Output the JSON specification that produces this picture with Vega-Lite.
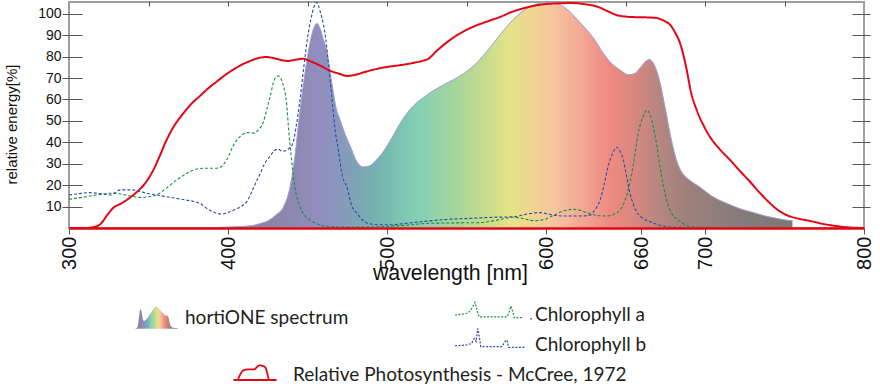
{
  "$schema": "https://vega.github.io/schema/vega-lite/v6.json",
  "width": 795,
  "height": 226,
  "autosize": {"type": "none"},
  "padding": {"left": 69, "top": 2, "right": 16, "bottom": 161},
  "background": "white",
  "config": {
    "view": {"stroke": "#9e9e9e", "strokeWidth": 2},
    "axis": {"grid": false},
    "legend": {"labelLimit": 0}
  },
  "datasets": {
    "spectrum": [
      {"wl":385,"rel":0,"source":"hortiONE spectrum"},{"wl":395,"rel":0.3,"source":"hortiONE spectrum"},{"wl":405,"rel":0.6,"source":"hortiONE spectrum"},{"wl":414,"rel":1,"source":"hortiONE spectrum"},{"wl":420,"rel":2,"source":"hortiONE spectrum"},{"wl":426,"rel":3.7,"source":"hortiONE spectrum"},{"wl":430,"rel":6,"source":"hortiONE spectrum"},{"wl":435,"rel":10,"source":"hortiONE spectrum"},{"wl":439,"rel":19,"source":"hortiONE spectrum"},{"wl":442,"rel":33,"source":"hortiONE spectrum"},{"wl":445,"rel":53,"source":"hortiONE spectrum"},{"wl":448,"rel":70,"source":"hortiONE spectrum"},{"wl":450,"rel":80,"source":"hortiONE spectrum"},{"wl":452,"rel":88,"source":"hortiONE spectrum"},{"wl":454,"rel":93.5,"source":"hortiONE spectrum"},{"wl":456,"rel":95.5,"source":"hortiONE spectrum"},{"wl":458,"rel":93,"source":"hortiONE spectrum"},{"wl":460,"rel":88,"source":"hortiONE spectrum"},{"wl":462,"rel":83,"source":"hortiONE spectrum"},{"wl":464,"rel":74,"source":"hortiONE spectrum"},{"wl":466,"rel":64.5,"source":"hortiONE spectrum"},{"wl":468,"rel":56,"source":"hortiONE spectrum"},{"wl":470.5,"rel":50.5,"source":"hortiONE spectrum"},{"wl":473,"rel":45,"source":"hortiONE spectrum"},{"wl":477,"rel":38,"source":"hortiONE spectrum"},{"wl":481,"rel":31,"source":"hortiONE spectrum"},{"wl":485,"rel":28.5,"source":"hortiONE spectrum"},{"wl":489,"rel":29,"source":"hortiONE spectrum"},{"wl":493,"rel":31.5,"source":"hortiONE spectrum"},{"wl":498,"rel":36,"source":"hortiONE spectrum"},{"wl":503,"rel":42,"source":"hortiONE spectrum"},{"wl":508,"rel":48.5,"source":"hortiONE spectrum"},{"wl":513,"rel":54,"source":"hortiONE spectrum"},{"wl":518,"rel":58,"source":"hortiONE spectrum"},{"wl":524,"rel":61.5,"source":"hortiONE spectrum"},{"wl":530,"rel":64.5,"source":"hortiONE spectrum"},{"wl":536,"rel":67,"source":"hortiONE spectrum"},{"wl":542,"rel":69.3,"source":"hortiONE spectrum"},{"wl":548,"rel":72,"source":"hortiONE spectrum"},{"wl":554,"rel":75.4,"source":"hortiONE spectrum"},{"wl":560,"rel":80,"source":"hortiONE spectrum"},{"wl":567,"rel":86.3,"source":"hortiONE spectrum"},{"wl":573,"rel":92,"source":"hortiONE spectrum"},{"wl":579,"rel":97,"source":"hortiONE spectrum"},{"wl":585,"rel":101,"source":"hortiONE spectrum"},{"wl":592,"rel":104,"source":"hortiONE spectrum"},{"wl":598,"rel":105.2,"source":"hortiONE spectrum"},{"wl":603,"rel":105.3,"source":"hortiONE spectrum"},{"wl":608,"rel":104.5,"source":"hortiONE spectrum"},{"wl":615,"rel":101,"source":"hortiONE spectrum"},{"wl":620,"rel":97,"source":"hortiONE spectrum"},{"wl":625.6,"rel":92.5,"source":"hortiONE spectrum"},{"wl":630,"rel":88.5,"source":"hortiONE spectrum"},{"wl":636,"rel":81.6,"source":"hortiONE spectrum"},{"wl":641,"rel":77,"source":"hortiONE spectrum"},{"wl":646.5,"rel":73.8,"source":"hortiONE spectrum"},{"wl":652,"rel":71.5,"source":"hortiONE spectrum"},{"wl":656,"rel":72.2,"source":"hortiONE spectrum"},{"wl":659.5,"rel":75,"source":"hortiONE spectrum"},{"wl":663,"rel":78,"source":"hortiONE spectrum"},{"wl":665,"rel":78.7,"source":"hortiONE spectrum"},{"wl":667,"rel":77.5,"source":"hortiONE spectrum"},{"wl":669,"rel":74.5,"source":"hortiONE spectrum"},{"wl":671.7,"rel":68,"source":"hortiONE spectrum"},{"wl":674.8,"rel":56.7,"source":"hortiONE spectrum"},{"wl":678,"rel":44.2,"source":"hortiONE spectrum"},{"wl":682,"rel":31.8,"source":"hortiONE spectrum"},{"wl":686.4,"rel":25,"source":"hortiONE spectrum"},{"wl":690,"rel":22.5,"source":"hortiONE spectrum"},{"wl":697,"rel":19,"source":"hortiONE spectrum"},{"wl":704,"rel":15,"source":"hortiONE spectrum"},{"wl":713.6,"rel":11.5,"source":"hortiONE spectrum"},{"wl":722,"rel":9,"source":"hortiONE spectrum"},{"wl":730.4,"rel":7.2,"source":"hortiONE spectrum"},{"wl":738,"rel":5.6,"source":"hortiONE spectrum"},{"wl":745,"rel":4.5,"source":"hortiONE spectrum"},{"wl":750,"rel":3.8,"source":"hortiONE spectrum"},{"wl":755,"rel":3.4,"source":"hortiONE spectrum"}
    ],
    "mccree": [
      {"wl":300,"rel":0,"curve":"Relative Photosynthesis - McCree, 1972"},{"wl":310,"rel":0,"curve":"Relative Photosynthesis - McCree, 1972"},{"wl":316,"rel":0.5,"curve":"Relative Photosynthesis - McCree, 1972"},{"wl":320,"rel":2,"curve":"Relative Photosynthesis - McCree, 1972"},{"wl":324,"rel":6,"curve":"Relative Photosynthesis - McCree, 1972"},{"wl":328,"rel":9.5,"curve":"Relative Photosynthesis - McCree, 1972"},{"wl":333,"rel":11.5,"curve":"Relative Photosynthesis - McCree, 1972"},{"wl":338,"rel":14,"curve":"Relative Photosynthesis - McCree, 1972"},{"wl":343,"rel":17,"curve":"Relative Photosynthesis - McCree, 1972"},{"wl":348,"rel":21,"curve":"Relative Photosynthesis - McCree, 1972"},{"wl":353,"rel":27,"curve":"Relative Photosynthesis - McCree, 1972"},{"wl":357,"rel":33.5,"curve":"Relative Photosynthesis - McCree, 1972"},{"wl":361,"rel":40.5,"curve":"Relative Photosynthesis - McCree, 1972"},{"wl":366,"rel":47.5,"curve":"Relative Photosynthesis - McCree, 1972"},{"wl":372,"rel":53.6,"curve":"Relative Photosynthesis - McCree, 1972"},{"wl":377,"rel":58,"curve":"Relative Photosynthesis - McCree, 1972"},{"wl":382,"rel":61.4,"curve":"Relative Photosynthesis - McCree, 1972"},{"wl":388,"rel":65.5,"curve":"Relative Photosynthesis - McCree, 1972"},{"wl":393,"rel":68.4,"curve":"Relative Photosynthesis - McCree, 1972"},{"wl":398,"rel":71.3,"curve":"Relative Photosynthesis - McCree, 1972"},{"wl":403,"rel":73.8,"curve":"Relative Photosynthesis - McCree, 1972"},{"wl":408,"rel":76,"curve":"Relative Photosynthesis - McCree, 1972"},{"wl":414,"rel":78,"curve":"Relative Photosynthesis - McCree, 1972"},{"wl":419,"rel":79.3,"curve":"Relative Photosynthesis - McCree, 1972"},{"wl":424,"rel":79.8,"curve":"Relative Photosynthesis - McCree, 1972"},{"wl":429,"rel":79.3,"curve":"Relative Photosynthesis - McCree, 1972"},{"wl":434,"rel":78.3,"curve":"Relative Photosynthesis - McCree, 1972"},{"wl":438,"rel":78,"curve":"Relative Photosynthesis - McCree, 1972"},{"wl":442,"rel":78.5,"curve":"Relative Photosynthesis - McCree, 1972"},{"wl":447,"rel":79,"curve":"Relative Photosynthesis - McCree, 1972"},{"wl":452,"rel":77.8,"curve":"Relative Photosynthesis - McCree, 1972"},{"wl":458,"rel":75.8,"curve":"Relative Photosynthesis - McCree, 1972"},{"wl":464,"rel":73.5,"curve":"Relative Photosynthesis - McCree, 1972"},{"wl":470,"rel":72,"curve":"Relative Photosynthesis - McCree, 1972"},{"wl":475,"rel":71,"curve":"Relative Photosynthesis - McCree, 1972"},{"wl":480,"rel":71.5,"curve":"Relative Photosynthesis - McCree, 1972"},{"wl":486,"rel":72.8,"curve":"Relative Photosynthesis - McCree, 1972"},{"wl":492,"rel":74,"curve":"Relative Photosynthesis - McCree, 1972"},{"wl":500,"rel":75.2,"curve":"Relative Photosynthesis - McCree, 1972"},{"wl":508,"rel":76,"curve":"Relative Photosynthesis - McCree, 1972"},{"wl":516,"rel":77,"curve":"Relative Photosynthesis - McCree, 1972"},{"wl":522,"rel":78,"curve":"Relative Photosynthesis - McCree, 1972"},{"wl":526,"rel":79,"curve":"Relative Photosynthesis - McCree, 1972"},{"wl":531,"rel":82.5,"curve":"Relative Photosynthesis - McCree, 1972"},{"wl":537,"rel":86.3,"curve":"Relative Photosynthesis - McCree, 1972"},{"wl":543,"rel":89.5,"curve":"Relative Photosynthesis - McCree, 1972"},{"wl":550,"rel":92.5,"curve":"Relative Photosynthesis - McCree, 1972"},{"wl":556,"rel":94.5,"curve":"Relative Photosynthesis - McCree, 1972"},{"wl":563,"rel":96.4,"curve":"Relative Photosynthesis - McCree, 1972"},{"wl":571,"rel":98.5,"curve":"Relative Photosynthesis - McCree, 1972"},{"wl":579,"rel":101,"curve":"Relative Photosynthesis - McCree, 1972"},{"wl":587,"rel":102.8,"curve":"Relative Photosynthesis - McCree, 1972"},{"wl":596,"rel":104.2,"curve":"Relative Photosynthesis - McCree, 1972"},{"wl":605,"rel":104.8,"curve":"Relative Photosynthesis - McCree, 1972"},{"wl":617,"rel":105,"curve":"Relative Photosynthesis - McCree, 1972"},{"wl":625,"rel":104.4,"curve":"Relative Photosynthesis - McCree, 1972"},{"wl":632,"rel":103.4,"curve":"Relative Photosynthesis - McCree, 1972"},{"wl":638,"rel":101.5,"curve":"Relative Photosynthesis - McCree, 1972"},{"wl":644,"rel":99.5,"curve":"Relative Photosynthesis - McCree, 1972"},{"wl":650,"rel":98.7,"curve":"Relative Photosynthesis - McCree, 1972"},{"wl":657,"rel":98.4,"curve":"Relative Photosynthesis - McCree, 1972"},{"wl":664,"rel":98.3,"curve":"Relative Photosynthesis - McCree, 1972"},{"wl":669.6,"rel":98,"curve":"Relative Photosynthesis - McCree, 1972"},{"wl":674,"rel":96.8,"curve":"Relative Photosynthesis - McCree, 1972"},{"wl":678,"rel":94.9,"curve":"Relative Photosynthesis - McCree, 1972"},{"wl":681,"rel":91.5,"curve":"Relative Photosynthesis - McCree, 1972"},{"wl":684.3,"rel":86.3,"curve":"Relative Photosynthesis - McCree, 1972"},{"wl":688.5,"rel":73.8,"curve":"Relative Photosynthesis - McCree, 1972"},{"wl":691,"rel":64,"curve":"Relative Photosynthesis - McCree, 1972"},{"wl":694.8,"rel":55,"curve":"Relative Photosynthesis - McCree, 1972"},{"wl":699,"rel":48,"curve":"Relative Photosynthesis - McCree, 1972"},{"wl":703,"rel":42.7,"curve":"Relative Photosynthesis - McCree, 1972"},{"wl":709,"rel":37,"curve":"Relative Photosynthesis - McCree, 1972"},{"wl":715.7,"rel":31.8,"curve":"Relative Photosynthesis - McCree, 1972"},{"wl":722,"rel":26.6,"curve":"Relative Photosynthesis - McCree, 1972"},{"wl":728.3,"rel":21.6,"curve":"Relative Photosynthesis - McCree, 1972"},{"wl":735,"rel":16,"curve":"Relative Photosynthesis - McCree, 1972"},{"wl":741,"rel":11.5,"curve":"Relative Photosynthesis - McCree, 1972"},{"wl":746,"rel":8.3,"curve":"Relative Photosynthesis - McCree, 1972"},{"wl":751.4,"rel":6,"curve":"Relative Photosynthesis - McCree, 1972"},{"wl":758,"rel":4.5,"curve":"Relative Photosynthesis - McCree, 1972"},{"wl":766,"rel":3.3,"curve":"Relative Photosynthesis - McCree, 1972"},{"wl":774.4,"rel":1.9,"curve":"Relative Photosynthesis - McCree, 1972"},{"wl":782.8,"rel":0.9,"curve":"Relative Photosynthesis - McCree, 1972"},{"wl":790,"rel":0.3,"curve":"Relative Photosynthesis - McCree, 1972"},{"wl":800,"rel":0,"curve":"Relative Photosynthesis - McCree, 1972"}
    ],
    "chlorophyll": [
      {"wl":300,"rel":13.4,"pigment":"Chlorophyll a"},{"wl":310,"rel":14.5,"pigment":"Chlorophyll a"},{"wl":318,"rel":15.5,"pigment":"Chlorophyll a"},{"wl":326,"rel":16.2,"pigment":"Chlorophyll a"},{"wl":332,"rel":15.9,"pigment":"Chlorophyll a"},{"wl":338,"rel":15,"pigment":"Chlorophyll a"},{"wl":345,"rel":14.3,"pigment":"Chlorophyll a"},{"wl":350,"rel":14.6,"pigment":"Chlorophyll a"},{"wl":355,"rel":15.4,"pigment":"Chlorophyll a"},{"wl":361,"rel":18.5,"pigment":"Chlorophyll a"},{"wl":367.7,"rel":22.4,"pigment":"Chlorophyll a"},{"wl":373,"rel":25,"pigment":"Chlorophyll a"},{"wl":378,"rel":27,"pigment":"Chlorophyll a"},{"wl":385,"rel":27.9,"pigment":"Chlorophyll a"},{"wl":393,"rel":27.9,"pigment":"Chlorophyll a"},{"wl":397,"rel":29.5,"pigment":"Chlorophyll a"},{"wl":400,"rel":33,"pigment":"Chlorophyll a"},{"wl":403,"rel":38,"pigment":"Chlorophyll a"},{"wl":406,"rel":41.5,"pigment":"Chlorophyll a"},{"wl":409,"rel":43.5,"pigment":"Chlorophyll a"},{"wl":412,"rel":44.5,"pigment":"Chlorophyll a"},{"wl":416,"rel":44.3,"pigment":"Chlorophyll a"},{"wl":418,"rel":45,"pigment":"Chlorophyll a"},{"wl":420,"rel":46.5,"pigment":"Chlorophyll a"},{"wl":422,"rel":49,"pigment":"Chlorophyll a"},{"wl":424.3,"rel":55,"pigment":"Chlorophyll a"},{"wl":427,"rel":63,"pigment":"Chlorophyll a"},{"wl":429,"rel":69,"pigment":"Chlorophyll a"},{"wl":431.6,"rel":71,"pigment":"Chlorophyll a"},{"wl":433,"rel":70,"pigment":"Chlorophyll a"},{"wl":435,"rel":66,"pigment":"Chlorophyll a"},{"wl":437,"rel":57,"pigment":"Chlorophyll a"},{"wl":438,"rel":47.3,"pigment":"Chlorophyll a"},{"wl":440,"rel":31.8,"pigment":"Chlorophyll a"},{"wl":442,"rel":19.3,"pigment":"Chlorophyll a"},{"wl":445.3,"rel":10,"pigment":"Chlorophyll a"},{"wl":448,"rel":6,"pigment":"Chlorophyll a"},{"wl":451.6,"rel":3.7,"pigment":"Chlorophyll a"},{"wl":456,"rel":2,"pigment":"Chlorophyll a"},{"wl":460,"rel":1,"pigment":"Chlorophyll a"},{"wl":470,"rel":0.5,"pigment":"Chlorophyll a"},{"wl":480,"rel":0.4,"pigment":"Chlorophyll a"},{"wl":495,"rel":0.6,"pigment":"Chlorophyll a"},{"wl":510,"rel":1.2,"pigment":"Chlorophyll a"},{"wl":527,"rel":2.2,"pigment":"Chlorophyll a"},{"wl":545,"rel":2.4,"pigment":"Chlorophyll a"},{"wl":558,"rel":2.5,"pigment":"Chlorophyll a"},{"wl":570,"rel":3.8,"pigment":"Chlorophyll a"},{"wl":579.4,"rel":5,"pigment":"Chlorophyll a"},{"wl":586,"rel":4.4,"pigment":"Chlorophyll a"},{"wl":592,"rel":3.4,"pigment":"Chlorophyll a"},{"wl":598,"rel":3.8,"pigment":"Chlorophyll a"},{"wl":605,"rel":6,"pigment":"Chlorophyll a"},{"wl":612,"rel":8.2,"pigment":"Chlorophyll a"},{"wl":617,"rel":8.7,"pigment":"Chlorophyll a"},{"wl":622,"rel":8.2,"pigment":"Chlorophyll a"},{"wl":625.6,"rel":7.2,"pigment":"Chlorophyll a"},{"wl":631,"rel":6,"pigment":"Chlorophyll a"},{"wl":638,"rel":5.6,"pigment":"Chlorophyll a"},{"wl":643,"rel":6.5,"pigment":"Chlorophyll a"},{"wl":646.5,"rel":8.4,"pigment":"Chlorophyll a"},{"wl":649,"rel":11.5,"pigment":"Chlorophyll a"},{"wl":651,"rel":16,"pigment":"Chlorophyll a"},{"wl":653,"rel":22,"pigment":"Chlorophyll a"},{"wl":655,"rel":30,"pigment":"Chlorophyll a"},{"wl":658,"rel":44.2,"pigment":"Chlorophyll a"},{"wl":661,"rel":52,"pigment":"Chlorophyll a"},{"wl":663.3,"rel":55,"pigment":"Chlorophyll a"},{"wl":665.5,"rel":53,"pigment":"Chlorophyll a"},{"wl":667.5,"rel":47.3,"pigment":"Chlorophyll a"},{"wl":670,"rel":37,"pigment":"Chlorophyll a"},{"wl":671.7,"rel":28.6,"pigment":"Chlorophyll a"},{"wl":674,"rel":19,"pigment":"Chlorophyll a"},{"wl":678,"rel":8.4,"pigment":"Chlorophyll a"},{"wl":681,"rel":5,"pigment":"Chlorophyll a"},{"wl":684.3,"rel":3,"pigment":"Chlorophyll a"},{"wl":690,"rel":0.8,"pigment":"Chlorophyll a"},{"wl":700,"rel":0.2,"pigment":"Chlorophyll a"},{"wl":710,"rel":0,"pigment":"Chlorophyll a"},
      {"wl":300,"rel":15.4,"pigment":"Chlorophyll b"},{"wl":306,"rel":16,"pigment":"Chlorophyll b"},{"wl":313,"rel":16.5,"pigment":"Chlorophyll b"},{"wl":320,"rel":16,"pigment":"Chlorophyll b"},{"wl":325.8,"rel":15.4,"pigment":"Chlorophyll b"},{"wl":329,"rel":16.5,"pigment":"Chlorophyll b"},{"wl":332,"rel":17.8,"pigment":"Chlorophyll b"},{"wl":340,"rel":17.8,"pigment":"Chlorophyll b"},{"wl":345,"rel":17,"pigment":"Chlorophyll b"},{"wl":349,"rel":16.2,"pigment":"Chlorophyll b"},{"wl":355,"rel":15.4,"pigment":"Chlorophyll b"},{"wl":361.4,"rel":14.6,"pigment":"Chlorophyll b"},{"wl":368,"rel":13.8,"pigment":"Chlorophyll b"},{"wl":374,"rel":13,"pigment":"Chlorophyll b"},{"wl":378,"rel":12.5,"pigment":"Chlorophyll b"},{"wl":382.4,"rel":11.5,"pigment":"Chlorophyll b"},{"wl":387,"rel":9,"pigment":"Chlorophyll b"},{"wl":392.9,"rel":6.9,"pigment":"Chlorophyll b"},{"wl":396,"rel":6.5,"pigment":"Chlorophyll b"},{"wl":399,"rel":7,"pigment":"Chlorophyll b"},{"wl":404,"rel":8.5,"pigment":"Chlorophyll b"},{"wl":408,"rel":10,"pigment":"Chlorophyll b"},{"wl":411.8,"rel":12.3,"pigment":"Chlorophyll b"},{"wl":415,"rel":17,"pigment":"Chlorophyll b"},{"wl":418,"rel":22,"pigment":"Chlorophyll b"},{"wl":420,"rel":25,"pigment":"Chlorophyll b"},{"wl":423,"rel":30,"pigment":"Chlorophyll b"},{"wl":426.4,"rel":33.5,"pigment":"Chlorophyll b"},{"wl":429,"rel":36,"pigment":"Chlorophyll b"},{"wl":431.6,"rel":36.8,"pigment":"Chlorophyll b"},{"wl":434,"rel":35.8,"pigment":"Chlorophyll b"},{"wl":437,"rel":36.4,"pigment":"Chlorophyll b"},{"wl":439,"rel":37.5,"pigment":"Chlorophyll b"},{"wl":441,"rel":40,"pigment":"Chlorophyll b"},{"wl":443,"rel":48,"pigment":"Chlorophyll b"},{"wl":445.3,"rel":60,"pigment":"Chlorophyll b"},{"wl":447.5,"rel":74,"pigment":"Chlorophyll b"},{"wl":449.5,"rel":86,"pigment":"Chlorophyll b"},{"wl":452,"rel":97,"pigment":"Chlorophyll b"},{"wl":454,"rel":103,"pigment":"Chlorophyll b"},{"wl":455.8,"rel":105.3,"pigment":"Chlorophyll b"},{"wl":458,"rel":101,"pigment":"Chlorophyll b"},{"wl":460,"rel":95,"pigment":"Chlorophyll b"},{"wl":461,"rel":91,"pigment":"Chlorophyll b"},{"wl":463,"rel":78,"pigment":"Chlorophyll b"},{"wl":465.2,"rel":62,"pigment":"Chlorophyll b"},{"wl":467,"rel":48,"pigment":"Chlorophyll b"},{"wl":469.4,"rel":36.4,"pigment":"Chlorophyll b"},{"wl":472,"rel":24,"pigment":"Chlorophyll b"},{"wl":474.7,"rel":19.3,"pigment":"Chlorophyll b"},{"wl":478,"rel":10,"pigment":"Chlorophyll b"},{"wl":481,"rel":6.9,"pigment":"Chlorophyll b"},{"wl":485,"rel":3.5,"pigment":"Chlorophyll b"},{"wl":489,"rel":2,"pigment":"Chlorophyll b"},{"wl":495,"rel":1.5,"pigment":"Chlorophyll b"},{"wl":502,"rel":1.5,"pigment":"Chlorophyll b"},{"wl":512,"rel":2.2,"pigment":"Chlorophyll b"},{"wl":525,"rel":3.2,"pigment":"Chlorophyll b"},{"wl":537.5,"rel":4,"pigment":"Chlorophyll b"},{"wl":552,"rel":4.5,"pigment":"Chlorophyll b"},{"wl":567,"rel":5,"pigment":"Chlorophyll b"},{"wl":580,"rel":5.3,"pigment":"Chlorophyll b"},{"wl":588,"rel":6.5,"pigment":"Chlorophyll b"},{"wl":596,"rel":7.2,"pigment":"Chlorophyll b"},{"wl":600,"rel":6.8,"pigment":"Chlorophyll b"},{"wl":604.6,"rel":6,"pigment":"Chlorophyll b"},{"wl":612,"rel":5.6,"pigment":"Chlorophyll b"},{"wl":621.4,"rel":5.6,"pigment":"Chlorophyll b"},{"wl":627.7,"rel":6,"pigment":"Chlorophyll b"},{"wl":629.8,"rel":7.6,"pigment":"Chlorophyll b"},{"wl":634,"rel":13,"pigment":"Chlorophyll b"},{"wl":636.5,"rel":20,"pigment":"Chlorophyll b"},{"wl":639,"rel":28.6,"pigment":"Chlorophyll b"},{"wl":642,"rel":35,"pigment":"Chlorophyll b"},{"wl":644.5,"rel":37.7,"pigment":"Chlorophyll b"},{"wl":646.5,"rel":36,"pigment":"Chlorophyll b"},{"wl":648.6,"rel":31.8,"pigment":"Chlorophyll b"},{"wl":651,"rel":23,"pigment":"Chlorophyll b"},{"wl":652.8,"rel":16.2,"pigment":"Chlorophyll b"},{"wl":655,"rel":11,"pigment":"Chlorophyll b"},{"wl":657,"rel":7.6,"pigment":"Chlorophyll b"},{"wl":660,"rel":5,"pigment":"Chlorophyll b"},{"wl":665.4,"rel":3,"pigment":"Chlorophyll b"},{"wl":672,"rel":1.2,"pigment":"Chlorophyll b"},{"wl":678,"rel":0.5,"pigment":"Chlorophyll b"},{"wl":690,"rel":0.1,"pigment":"Chlorophyll b"}
    ]
  },
  "layer": [
    {
      "data": {"name": "spectrum"},
      "mark": {
        "type": "area",
        "interpolate": "monotone",
        "clip": true,
        "color": {
          "gradient": "linear", "x1": 0, "y1": 0, "x2": 1, "y2": 0,
          "stops": [
            {"offset": 0, "color": "#8a8590"},
            {"offset": 0.095, "color": "#8a84a0"},
            {"offset": 0.162, "color": "#8e89b4"},
            {"offset": 0.197, "color": "#928dc0"},
            {"offset": 0.23, "color": "#8898bc"},
            {"offset": 0.27, "color": "#7aa9b3"},
            {"offset": 0.311, "color": "#77bbb0"},
            {"offset": 0.365, "color": "#85d0b5"},
            {"offset": 0.419, "color": "#a2d59e"},
            {"offset": 0.473, "color": "#c3db8e"},
            {"offset": 0.522, "color": "#e5e388"},
            {"offset": 0.559, "color": "#f1d492"},
            {"offset": 0.595, "color": "#f6c4a0"},
            {"offset": 0.641, "color": "#f3a894"},
            {"offset": 0.689, "color": "#ef8a82"},
            {"offset": 0.73, "color": "#d9877f"},
            {"offset": 0.776, "color": "#b48680"},
            {"offset": 0.824, "color": "#9e807c"},
            {"offset": 0.905, "color": "#857c7b"},
            {"offset": 1, "color": "#7b7878"}
          ]
        },
        "line": {"color": "#9d9dd2", "strokeWidth": 1}
      },
      "encoding": {
        "x": {
          "field": "wl", "type": "quantitative",
          "scale": {"domain": [300, 800], "nice": false, "zero": false},
          "axis": {
            "orient": "bottom",
            "values": [300, 400, 500, 600, 660, 700, 800],
            "labelAngle": -90, "labelAlign": "right", "labelBaseline": "middle",
            "labelFont": "Liberation Sans, Arial, sans-serif",
            "labelFontSize": 20, "labelColor": "#111111", "labelPadding": 2,
            "labelFlush": false, "labelOverlap": false,
            "tickSize": 6, "tickColor": "#555555", "tickWidth": 1,
            "domainColor": "#e30613", "domainWidth": 2.5,
            "title": "wavelength [nm]",
            "titleFont": "Liberation Sans, Arial, sans-serif",
            "titleFontSize": 21.3, "titleFontWeight": "normal", "titleColor": "#111111",
            "titleX": 381, "titleY": 51, "titleAlign": "center", "titleBaseline": "alphabetic",
            "zindex": 1
          }
        },
        "y": {
          "field": "rel", "type": "quantitative",
          "scale": {"domain": [0, 105.5], "nice": false},
          "axis": {
            "orient": "left",
            "values": [10, 20, 30, 40, 50, 60, 70, 80, 90, 100],
            "offset": -13, "tickSize": 20, "domain": false,
            "tickColor": "#555555", "tickWidth": 1,
            "labelPadding": 1,
            "labelFont": "Liberation Sans, Arial, sans-serif",
            "labelFontSize": 14, "labelColor": "#111111",
            "title": "relative energy[%]",
            "titleFont": "Liberation Sans, Arial, sans-serif",
            "titleFontSize": 15, "titleFontWeight": "normal", "titleColor": "#111111",
            "titlePadding": 18, "titleY": 122
          }
        },
        "opacity": {
          "field": "source", "type": "nominal",
          "scale": {"range": [1]},
          "legend": {
            "orient": "none", "legendX": 65.5, "legendY": 294,
            "title": null, "padding": 0, "labelLimit": 0,
            "symbolSize": 1849, "symbolStrokeWidth": 1,
            "symbolType": "M-1,0.5 L-0.9,0.45 C-0.82,0.35 -0.8,-0.42 -0.74,-0.42 C-0.68,-0.42 -0.66,0.14 -0.58,0.14 C-0.45,0.1 -0.3,-0.2 -0.15,-0.4 C-0.08,-0.5 -0.05,-0.53 0,-0.53 C0.1,-0.5 0.3,-0.2 0.4,-0.12 C0.45,-0.1 0.5,-0.15 0.55,-0.05 C0.6,0.1 0.62,0.35 0.7,0.42 C0.8,0.47 0.9,0.48 1,0.48 L1,0.5 Z",
            "labelOffset": 6.5, "labelFont": "Lato", "labelFontSize": 19, "labelColor": "#231f20",
            "encode": {
              "symbols": {
                "update": {
                  "fill": {"value": {
                    "gradient": "linear", "x1": 0, "y1": 0, "x2": 1, "y2": 0,
                    "stops": [
                      {"offset": 0, "color": "#857fa8"},
                      {"offset": 0.3, "color": "#8f8ac2"},
                      {"offset": 0.4, "color": "#59b8c0"},
                      {"offset": 0.48, "color": "#8fd08a"},
                      {"offset": 0.56, "color": "#e3e16a"},
                      {"offset": 0.63, "color": "#f5a865"},
                      {"offset": 0.72, "color": "#ef5e62"},
                      {"offset": 0.84, "color": "#9e7a8a"},
                      {"offset": 1, "color": "#8c8cb4"}
                    ]
                  }},
                  "stroke": {"value": "#8f8fc8"},
                  "opacity": {"value": 1}
                }
              }
            }
          }
        }
      }
    },
    {
      "data": {"name": "mccree"},
      "mark": {"type": "line", "interpolate": "monotone", "color": "#e30613", "strokeWidth": 2, "clip": true},
      "encoding": {
        "x": {
          "field": "wl", "type": "quantitative",
          "axis": {
            "orient": "top",
            "values": [350, 400, 450, 500, 550, 600, 650, 700, 750],
            "offset": -4, "tickSize": 5, "domain": false, "labels": false,
            "tickColor": "#555555", "tickWidth": 1, "title": null
          }
        },
        "y": {
          "field": "rel", "type": "quantitative",
          "axis": {
            "orient": "right",
            "values": [10, 20, 30, 40, 50, 60, 70, 80, 90, 100],
            "offset": -12, "tickSize": 18, "domain": false, "labels": false,
            "tickColor": "#555555", "tickWidth": 1, "title": null
          }
        },
        "strokeDash": {
          "field": "curve", "type": "nominal",
          "scale": {"range": [[1, 0]]},
          "legend": {
            "orient": "none", "legendX": 163.5, "legendY": 350.5,
            "title": null, "padding": 0, "labelLimit": 0,
            "symbolSize": 1849, "symbolStrokeWidth": 1.8,
            "symbolStrokeColor": "#e30613", "symbolFillColor": "transparent",
            "symbolType": "M-1,0.233 L1,0.233 M-0.8,0.233 C-0.72,0.05 -0.64,-0.2 -0.49,-0.233 C-0.35,-0.28 -0.1,-0.26 -0.03,-0.264 C0.05,-0.3 0.1,-0.42 0.2,-0.44 C0.3,-0.46 0.42,-0.42 0.49,-0.34 C0.55,-0.2 0.6,0.1 0.66,0.233",
            "labelOffset": 15.5, "labelFont": "Lato", "labelFontSize": 19, "labelColor": "#231f20"
          }
        }
      }
    },
    {
      "data": {"name": "chlorophyll"},
      "transform": [{"filter": "datum.pigment === 'Chlorophyll a'"}],
      "mark": {"type": "line", "interpolate": "monotone", "strokeWidth": 1.1, "strokeDash": [3, 2], "clip": true},
      "encoding": {
        "x": {"field": "wl", "type": "quantitative", "axis": null},
        "y": {"field": "rel", "type": "quantitative", "axis": null},
        "color": {
          "field": "pigment", "type": "nominal",
          "scale": {"domain": ["Chlorophyll a"], "range": ["#178f3e"]},
          "legend": {
            "orient": "none", "legendX": 385, "legendY": 273.5,
            "title": null, "padding": 0, "labelLimit": 0,
            "symbolSize": 5929, "symbolStrokeWidth": 1.2, "symbolDash": [2, 1.5],
            "symbolFillColor": "transparent",
            "symbolType": "M-1,0 L-0.74,-0.03 C-0.66,-0.05 -0.6,-0.1 -0.55,-0.2 L-0.48,-0.33 L-0.42,-0.09 L-0.37,0.05 L0.35,0.05 L0.41,-0.09 L0.45,-0.23 L0.5,-0.09 L0.54,0.07 L0.78,0.07 M0.95,0.1 L1,0.1",
            "labelOffset": 2, "labelFont": "Lato", "labelFontSize": 19, "labelColor": "#231f20"
          }
        }
      }
    },
    {
      "data": {"name": "chlorophyll"},
      "transform": [{"filter": "datum.pigment === 'Chlorophyll b'"}],
      "mark": {"type": "line", "interpolate": "monotone", "strokeWidth": 1.1, "strokeDash": [3, 2], "clip": true},
      "encoding": {
        "x": {"field": "wl", "type": "quantitative", "axis": null},
        "y": {"field": "rel", "type": "quantitative", "axis": null},
        "stroke": {
          "field": "pigment", "type": "nominal",
          "scale": {"domain": ["Chlorophyll b"], "range": ["#2d4aa0"]},
          "legend": {
            "orient": "none", "legendX": 385, "legendY": 303.5,
            "title": null, "padding": 0, "labelLimit": 0,
            "symbolSize": 5929, "symbolStrokeWidth": 1.2, "symbolDash": [2, 1.5],
            "symbolFillColor": "transparent",
            "symbolType": "M-1,0.02 L-0.7,0 L-0.57,-0.04 L-0.5,-0.17 L-0.45,-0.09 L-0.41,-0.43 L-0.37,-0.22 L-0.33,0.04 L0.22,0.04 L0.3,-0.09 L0.35,-0.13 L0.39,0.06 L0.83,0.06",
            "labelOffset": 2, "labelFont": "Lato", "labelFontSize": 19, "labelColor": "#231f20"
          }
        }
      }
    }
  ],
  "resolve": {"axis": {"x": "independent", "y": "independent"}}
}
